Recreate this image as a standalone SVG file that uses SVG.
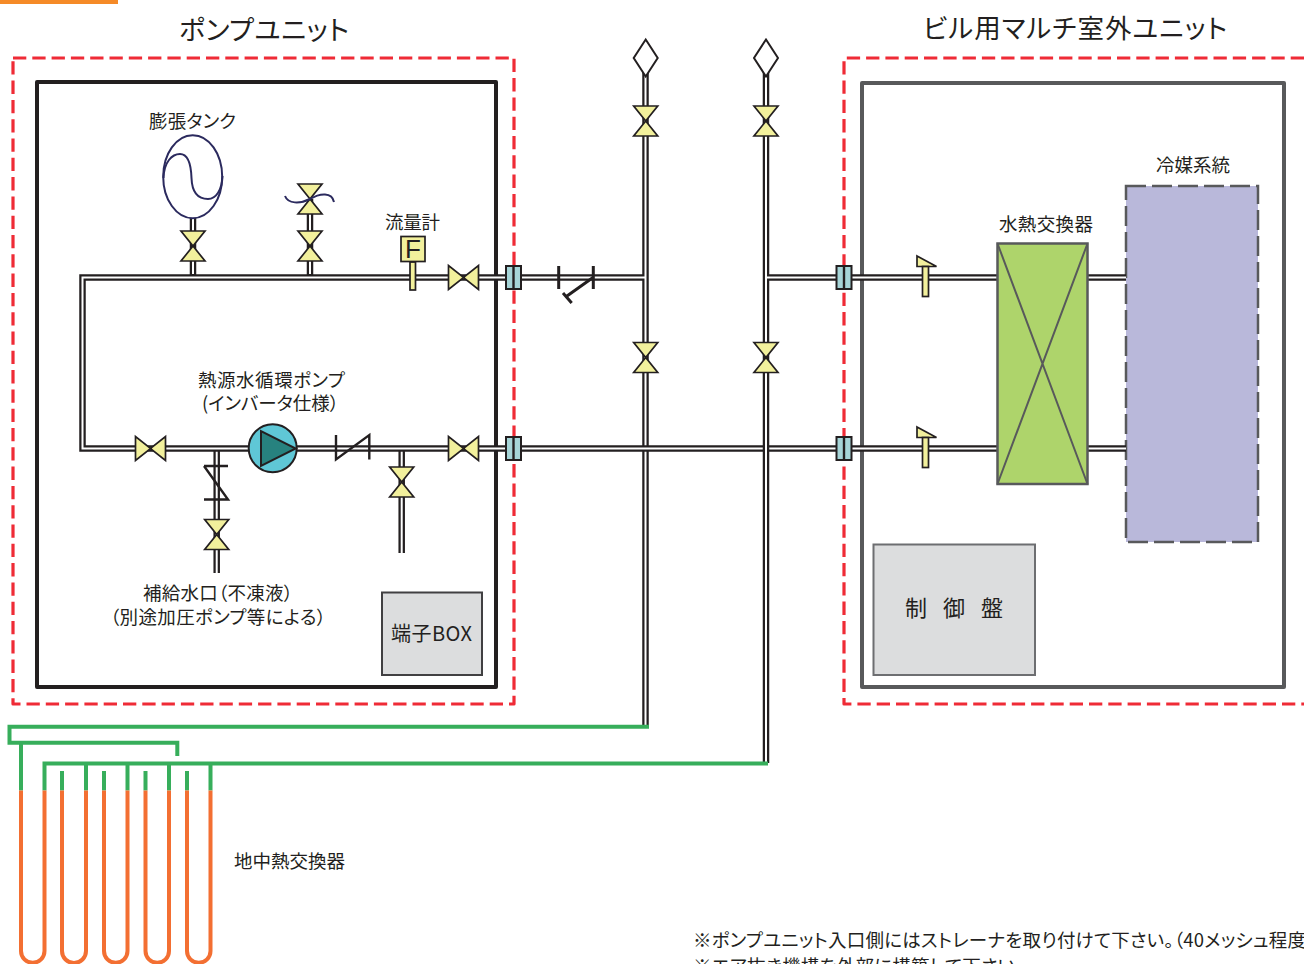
<svg xmlns="http://www.w3.org/2000/svg" xmlns:xlink="http://www.w3.org/1999/xlink" width="1304" height="964" viewBox="0 0 1304 964">
<style>
text{font-family:"Noto Sans CJK JP","Liberation Sans",sans-serif;fill:#231f20;font-weight:400;font-feature-settings:"palt"}
.redbox{fill:none;stroke:#ef2b36;stroke-width:3.2;stroke-dasharray:13.3 6;stroke-linejoin:round}
.po{fill:none;stroke:#231f20;stroke-width:6.5}
.pi{fill:none;stroke:#fff;stroke-width:2}
.v{fill:#f2f09c;stroke:#231f20;stroke-width:1.7;stroke-linejoin:miter}
.ln{fill:none;stroke:#231f20;stroke-width:2.4}
.navy{fill:none;stroke:#2b2a5e;stroke-width:2}
.fl{fill:#a6d5d8;stroke:#231f20;stroke-width:2}
.g{fill:none;stroke:#37ae5b;stroke-width:4}
.o{fill:none;stroke:#f36f32;stroke-width:4}
</style>
<defs>
<g id="vv"><path class="v" d="M-12 -15H12L0 0L12 15H-12L0 0Z"/></g>
<g id="hv"><path class="v" d="M-15 -12V12L0 0L15 12V-12L0 0Z"/></g>
<g id="fg"><rect class="fl" x="-7.500" y="-11.500" width="15" height="23"/><path class="ln" d="M0 -11.500V11.500"/></g>
<g id="ts"><path class="v" d="M-8.500 -21.500L11 -11H-8.500Z"/><rect class="v" x="-3" y="-11" width="6" height="30"/></g>
<g id="dm"><path d="M0 -18.500L12 0L0 18.500L-12 0Z" fill="#fff" stroke="#231f20" stroke-width="2"/></g>
</defs>
<rect width="1304" height="964" fill="#fff"/>
<rect id="accent" x="0" y="0" width="118" height="4" fill="#f58a27"/>

<g id="frames">
<rect class="redbox" x="13" y="58" width="501" height="646"/>
<path class="redbox" d="M1304 58H844V704H1304"/>
<rect x="37" y="82" width="459" height="605" fill="none" stroke="#231f20" stroke-width="4" stroke-linejoin="round"/>
<rect x="862" y="83" width="422" height="604" fill="none" stroke="#58595b" stroke-width="4" stroke-linejoin="round"/>
</g>

<g id="refrigerant"><rect x="1126" y="186" width="132" height="356" fill="#b9b8da" stroke="#58595b" stroke-width="2.500" stroke-dasharray="20 6"/></g>
<g id="control"><rect x="873.500" y="544.500" width="161.500" height="130.500" fill="#dcddde" stroke="#6d6e71" stroke-width="2"/></g>
<g id="terminal"><rect x="382" y="592.500" width="100" height="82.500" fill="#dcddde" stroke="#414042" stroke-width="2"/></g>

<g id="connectors">
<path class="po" d="M645.500 60V725M193 277V218M310 277V199M216.700 448.500V573M401.700 448.500V553M766 277.500H997M1088 277.500H1126"/>
<path class="po" d="M645.500 277.500H82.500V448.500H997M1088 448.500H1126"/>
<path class="pi" d="M645.500 60V445.200M645.500 451.800V725M193 274V218M310 274V199M216.700 451.800V573M401.700 451.800V553"/>
<path class="pi" d="M645.500 277.500H82.500V448.500H997M1088 448.500H1126"/>
<path class="po" d="M766 60V763"/>
<path class="pi" d="M766 60V763M766 277.500H997M1088 277.500H1126"/>
<path class="g" d="M649 726.700H9.500V742.700H177.300V756M21 742.700V790.500M768 763.500H44.500V790.500M86 763.500V790.500M127.500 763.500V790.500M169 763.500V790.500M210.500 763.500V790.500M62 771V790.500M104 771V790.500M145.500 771V790.500M187 771V790.500"/>
<path class="o" d="M21 790.500V951A11.750 11.750 0 0 0 44.500 951V790.500M62 790.500V951A12 12 0 0 0 86 951V790.500M104 790.500V951A11.750 11.750 0 0 0 127.500 951V790.500M145.500 790.500V951A11.750 11.750 0 0 0 169 951V790.500M187 790.500V951A11.750 11.750 0 0 0 210.500 951V790.500"/>
</g>

<g id="tank"><ellipse cx="192.700" cy="176.700" rx="29.500" ry="41.500" fill="#fff" stroke="#2b2a5e" stroke-width="2"/><path class="navy" d="M163.500 178C164 162 172 154 180 154C188 154 191 164 191.500 178C192 192 198 199 208 199C216 199 222 190 222.500 176"/></g>
<g id="valve-tank"><use xlink:href="#vv" href="#vv" x="193" y="246"/></g>
<g id="valve-relief"><use xlink:href="#vv" href="#vv" x="310" y="199"/><path class="navy" d="M285 196C288 204 300 204 310 199C320 193 332 192 334 202"/></g>
<g id="valve-vent"><use xlink:href="#vv" href="#vv" x="310" y="246"/></g>
<g id="flowmeter"><rect class="v" x="410" y="262" width="5.500" height="28"/><rect class="v" x="401" y="236.500" width="24" height="25"/><text x="413" y="258" font-size="26" text-anchor="middle" style="font-family:'Liberation Sans',sans-serif">F</text></g>
<g id="valve-top-out"><use xlink:href="#hv" href="#hv" x="463.500" y="277.500"/></g>
<g id="flange1"><use xlink:href="#fg" href="#fg" x="513.500" y="277.500"/></g>
<g id="flange2"><use xlink:href="#fg" href="#fg" x="513.500" y="448.500"/></g>
<g id="flange3"><use xlink:href="#fg" href="#fg" x="844" y="277.500"/></g>
<g id="flange4"><use xlink:href="#fg" href="#fg" x="844" y="448.500"/></g>
<g id="strainer"><path class="ln" style="stroke-width:3" d="M558.700 266V289M593.300 266V289M593 277.500L567 296M563 293L571.700 303"/></g>
<g id="header1"><use xlink:href="#dm" href="#dm" x="645.700" y="58"/><use xlink:href="#vv" href="#vv" x="645.700" y="121"/><use xlink:href="#vv" href="#vv" x="645.700" y="357.500"/></g>
<g id="header2"><use xlink:href="#dm" href="#dm" x="766" y="58"/><use xlink:href="#vv" href="#vv" x="766" y="121"/><use xlink:href="#vv" href="#vv" x="766" y="357.500"/></g>
<g id="valve-left"><use xlink:href="#hv" href="#hv" x="150.500" y="448.500"/></g>
<g id="pump"><circle cx="272.700" cy="448.300" r="24" fill="#5fc7d6" stroke="#231f20" stroke-width="2"/><path d="M261 431V466L295.700 448.500Z" fill="#27827f" stroke="#231f20" stroke-width="2"/></g>
<g id="check-h"><path class="ln" d="M336 435V459.500L369.300 435V459.500"/></g>
<g id="check-v"><path class="ln" d="M204 466H228M204 466L228 499.500H204"/></g>
<g id="valve-makeup"><use xlink:href="#vv" href="#vv" x="216.700" y="534.500"/></g>
<g id="valve-drain"><use xlink:href="#vv" href="#vv" x="401.700" y="482"/></g>
<g id="valve-bottom-out"><use xlink:href="#hv" href="#hv" x="463.500" y="448.500"/></g>
<g id="temp1"><use xlink:href="#ts" href="#ts" x="925.500" y="277.500"/></g>
<g id="temp2"><use xlink:href="#ts" href="#ts" x="925.500" y="448.500"/></g>
<g id="hex"><rect x="997.500" y="243.500" width="90" height="240.500" fill="#aed46b" stroke="#58595b" stroke-width="2.500"/><path d="M997.500 243.500L1087.500 484M1087.500 243.500L997.500 484" fill="none" stroke="#58595b" stroke-width="2"/></g>

<g id="labels">
<text x="179" y="40" font-size="27" textLength="170">ポンプユニット</text>
<text x="923" y="38" font-size="26.500" textLength="304">ビル用マルチ室外ユニット</text>
<text x="149" y="128" font-size="18.500" textLength="87">膨張タンク</text>
<text x="385" y="229" font-size="18.500" textLength="55">流量計</text>
<text x="198" y="387" font-size="18.500" textLength="147">熱源水循環ポンプ</text>
<text x="202" y="410" font-size="18.500" textLength="137">(インバータ仕様）</text>
<text x="143" y="600" font-size="18.500" textLength="150">補給水口（不凍液）</text>
<text x="110" y="624" font-size="18.500" textLength="216">（別途加圧ポンプ等による）</text>
<text x="391" y="641" font-size="20" textLength="81">端子BOX</text>
<text x="905" y="616" font-size="22" textLength="98">制 御 盤</text>
<text x="1156" y="172" font-size="18.500" textLength="74">冷媒系統</text>
<text x="999" y="231" font-size="18.500" textLength="94">水熱交換器</text>
<text x="234" y="868" font-size="18.500" textLength="111">地中熱交換器</text>
<text x="693" y="947" font-size="18.500" textLength="613">※ポンプユニット入口側にはストレーナを取り付けて下さい。（40メッシュ程度</text>
<text x="693" y="973" font-size="18.500" textLength="322">※エア抜き機構を外部に構築して下さい</text>
</g>
</svg>
